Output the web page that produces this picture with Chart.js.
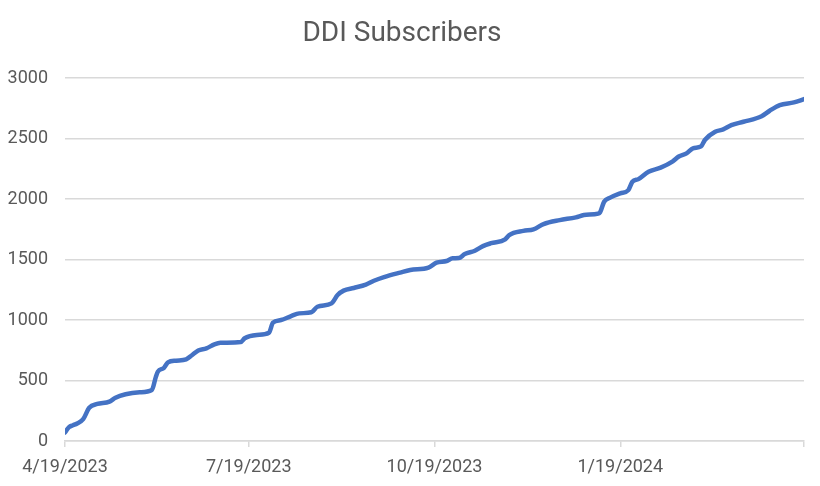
<!DOCTYPE html>
<html>
<head>
<meta charset="utf-8">
<script src="https://cdn.jsdelivr.net/npm/chart.js@4/dist/chart.umd.min.js"></script>
<style>
html,body{margin:0;padding:0;background:#fff;}
#wrap{width:820px;height:486px;}
</style>
</head>
<body>
<div id="wrap"><canvas id="c" width="820" height="486"></canvas></div>
<script>
// Days since 4/19/2023
const dayIndex = [0, 2, 4, 6, 9, 12, 16, 22, 25, 30, 37, 43, 45, 46, 49, 51, 55, 60, 63, 66, 70, 74, 77, 87, 89, 95, 101, 103, 107, 112, 116, 122, 125, 132, 135, 138, 143, 149, 153, 158, 166, 171, 180, 184, 189, 192, 195, 198, 203, 207, 211, 218, 220, 227, 232, 237, 245, 253, 257, 264, 265, 267, 270, 275, 279, 281, 284, 289, 295, 301, 304, 308, 311, 315, 317, 322, 326, 330, 336, 345, 349, 354, 361, 366];
const subscribers = [70, 115, 130, 145, 180, 275, 306, 325, 358, 386, 402, 421, 530, 573, 605, 650, 664, 675, 711, 748, 766, 799, 812, 818, 849, 876, 895, 978, 1000, 1033, 1055, 1064, 1110, 1138, 1207, 1243, 1265, 1293, 1325, 1355, 1392, 1413, 1433, 1474, 1488, 1510, 1512, 1545, 1573, 1611, 1635, 1667, 1702, 1737, 1749, 1793, 1826, 1849, 1868, 1880, 1890, 1978, 2012, 2047, 2074, 2143, 2165, 2226, 2260, 2312, 2352, 2380, 2419, 2435, 2490, 2556, 2576, 2611, 2639, 2684, 2730, 2777, 2799, 2826];
const tickDays = [0, 91, 183, 275, 366];
const tickLabels = ['4/19/2023', '7/19/2023', '10/19/2023', '1/19/2024', ''];
const yTicks = [0, 500, 1000, 1500, 2000, 2500, 3000];
const chartTitle = 'DDI Subscribers';

const points = dayIndex.map((d, i) => ({x: d, y: subscribers[i]}));
const FONT = 'Roboto, "Open Sans", sans-serif';
const GREY = '#595959';
const GRID = '#d9d9d9';

new Chart(document.getElementById('c'), {
  type: 'line',
  data: {
    datasets: [{
      data: points,
      borderColor: '#4472C4',
      borderWidth: 4.5,
      pointRadius: 0,
      fill: false,
      cubicInterpolationMode: 'monotone',
      borderCapStyle: 'round',
      borderJoinStyle: 'round'
    }]
  },
  options: {
    responsive: false,
    animation: false,
    devicePixelRatio: 1,
    layout: {padding: {left: 0, right: 16, top: 0, bottom: 0}},
    plugins: {
      legend: {display: false},
      tooltip: {enabled: false},
      title: {
        display: true,
        text: chartTitle,
        color: GREY,
        font: {family: FONT, size: 28, weight: 'normal'},
        padding: {top: 17, bottom: 27.5}
      }
    },
    scales: {
      x: {
        type: 'linear',
        min: tickDays[0],
        max: tickDays[tickDays.length - 1],
        afterBuildTicks: (axis) => { axis.ticks = tickDays.map(v => ({value: v})); },
        afterFit: (axis) => { axis.height = 45; },
        ticks: {
          autoSkip: false,
          maxRotation: 0,
          color: GREY,
          font: {family: FONT, size: 18},
          padding: 10,
          callback: (v) => { const i = tickDays.indexOf(v); return i >= 0 ? tickLabels[i] : ''; }
        },
        grid: {display: true, drawOnChartArea: false, drawTicks: true, tickLength: 6, color: GRID, lineWidth: 1.5},
        border: {display: true, color: GRID, width: 1.5}
      },
      y: {
        min: yTicks[0],
        max: yTicks[yTicks.length - 1],
        afterBuildTicks: (axis) => { axis.ticks = yTicks.map(v => ({value: v})); },
        afterFit: (axis) => { axis.width = 65; },
        ticks: {
          color: GREY,
          font: {family: FONT, size: 18},
          padding: 17,
          callback: (v) => String(v)
        },
        grid: {color: GRID, lineWidth: 1.5, drawTicks: false},
        border: {display: false}
      }
    }
  }
});
</script>
</body>
</html>
